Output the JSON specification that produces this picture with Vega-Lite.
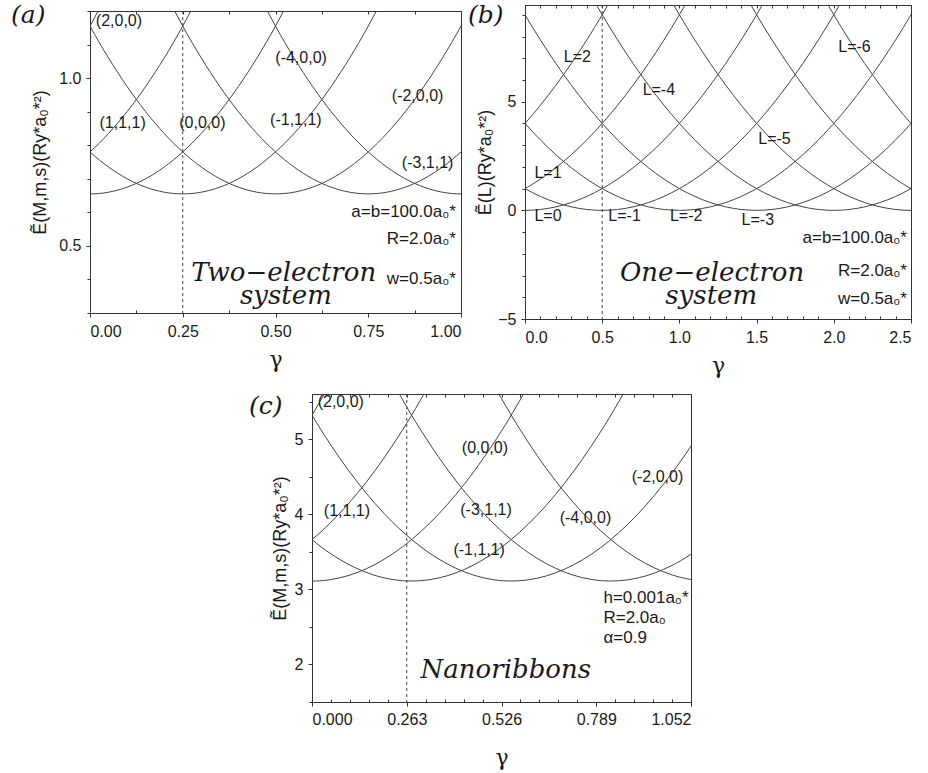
{
  "$schema": "https://vega.github.io/schema/vega-lite/v6.json",
  "background": "white",
  "padding": {"left": 10, "top": 2, "right": 2, "bottom": 2},
  "config": {
    "view": {"stroke": "#333", "strokeWidth": 1},
    "axis": {
      "grid": false,
      "labelFont": "Liberation Sans",
      "labelFontSize": 16,
      "labelColor": "#1a1a1a",
      "tickColor": "#333",
      "domainColor": "#333",
      "tickSize": 4,
      "labelPadding": 5,
      "titleFontWeight": "normal",
      "titleColor": "#1a1a1a"
    },
    "text": {"color": "#1a1a1a"}
  },
  "datasets": {
    "curvesA": [
      {"k": "2,0,0", "g": -0.05, "E": 1.06}, {"k": "2,0,0", "g": 0, "E": 1.155}, {"k": "2,0,0", "g": 0.05, "E": 1.26},
      {"k": "1,1,1", "g": -0.05, "E": 0.735}, {"k": "1,1,1", "g": 0, "E": 0.78}, {"k": "1,1,1", "g": 0.05, "E": 0.835}, {"k": "1,1,1", "g": 0.1, "E": 0.9}, {"k": "1,1,1", "g": 0.15, "E": 0.975}, {"k": "1,1,1", "g": 0.2, "E": 1.06}, {"k": "1,1,1", "g": 0.25, "E": 1.155}, {"k": "1,1,1", "g": 0.3, "E": 1.26},
      {"k": "0,0,0", "g": -0.05, "E": 0.66}, {"k": "0,0,0", "g": 0, "E": 0.655}, {"k": "0,0,0", "g": 0.05, "E": 0.66}, {"k": "0,0,0", "g": 0.1, "E": 0.675}, {"k": "0,0,0", "g": 0.15, "E": 0.7}, {"k": "0,0,0", "g": 0.2, "E": 0.735}, {"k": "0,0,0", "g": 0.25, "E": 0.78}, {"k": "0,0,0", "g": 0.3, "E": 0.835}, {"k": "0,0,0", "g": 0.35, "E": 0.9}, {"k": "0,0,0", "g": 0.4, "E": 0.975}, {"k": "0,0,0", "g": 0.45, "E": 1.06}, {"k": "0,0,0", "g": 0.5, "E": 1.155}, {"k": "0,0,0", "g": 0.55, "E": 1.26},
      {"k": "-1,1,1", "g": -0.05, "E": 0.835}, {"k": "-1,1,1", "g": 0, "E": 0.78}, {"k": "-1,1,1", "g": 0.05, "E": 0.735}, {"k": "-1,1,1", "g": 0.1, "E": 0.7}, {"k": "-1,1,1", "g": 0.15, "E": 0.675}, {"k": "-1,1,1", "g": 0.2, "E": 0.66}, {"k": "-1,1,1", "g": 0.25, "E": 0.655}, {"k": "-1,1,1", "g": 0.3, "E": 0.66}, {"k": "-1,1,1", "g": 0.35, "E": 0.675}, {"k": "-1,1,1", "g": 0.4, "E": 0.7}, {"k": "-1,1,1", "g": 0.45, "E": 0.735}, {"k": "-1,1,1", "g": 0.5, "E": 0.78}, {"k": "-1,1,1", "g": 0.55, "E": 0.835}, {"k": "-1,1,1", "g": 0.6, "E": 0.9}, {"k": "-1,1,1", "g": 0.65, "E": 0.975}, {"k": "-1,1,1", "g": 0.7, "E": 1.06}, {"k": "-1,1,1", "g": 0.75, "E": 1.155}, {"k": "-1,1,1", "g": 0.8, "E": 1.26},
      {"k": "-2,0,0", "g": -0.05, "E": 1.26}, {"k": "-2,0,0", "g": 0, "E": 1.155}, {"k": "-2,0,0", "g": 0.05, "E": 1.06}, {"k": "-2,0,0", "g": 0.1, "E": 0.975}, {"k": "-2,0,0", "g": 0.15, "E": 0.9}, {"k": "-2,0,0", "g": 0.2, "E": 0.835}, {"k": "-2,0,0", "g": 0.25, "E": 0.78}, {"k": "-2,0,0", "g": 0.3, "E": 0.735}, {"k": "-2,0,0", "g": 0.35, "E": 0.7}, {"k": "-2,0,0", "g": 0.4, "E": 0.675}, {"k": "-2,0,0", "g": 0.45, "E": 0.66}, {"k": "-2,0,0", "g": 0.5, "E": 0.655}, {"k": "-2,0,0", "g": 0.55, "E": 0.66}, {"k": "-2,0,0", "g": 0.6, "E": 0.675}, {"k": "-2,0,0", "g": 0.65, "E": 0.7}, {"k": "-2,0,0", "g": 0.7, "E": 0.735}, {"k": "-2,0,0", "g": 0.75, "E": 0.78}, {"k": "-2,0,0", "g": 0.8, "E": 0.835}, {"k": "-2,0,0", "g": 0.85, "E": 0.9}, {"k": "-2,0,0", "g": 0.9, "E": 0.975}, {"k": "-2,0,0", "g": 0.95, "E": 1.06}, {"k": "-2,0,0", "g": 1.0, "E": 1.155}, {"k": "-2,0,0", "g": 1.05, "E": 1.26},
      {"k": "-3,1,1", "g": 0.2, "E": 1.26}, {"k": "-3,1,1", "g": 0.25, "E": 1.155}, {"k": "-3,1,1", "g": 0.3, "E": 1.06}, {"k": "-3,1,1", "g": 0.35, "E": 0.975}, {"k": "-3,1,1", "g": 0.4, "E": 0.9}, {"k": "-3,1,1", "g": 0.45, "E": 0.835}, {"k": "-3,1,1", "g": 0.5, "E": 0.78}, {"k": "-3,1,1", "g": 0.55, "E": 0.735}, {"k": "-3,1,1", "g": 0.6, "E": 0.7}, {"k": "-3,1,1", "g": 0.65, "E": 0.675}, {"k": "-3,1,1", "g": 0.7, "E": 0.66}, {"k": "-3,1,1", "g": 0.75, "E": 0.655}, {"k": "-3,1,1", "g": 0.8, "E": 0.66}, {"k": "-3,1,1", "g": 0.85, "E": 0.675}, {"k": "-3,1,1", "g": 0.9, "E": 0.7}, {"k": "-3,1,1", "g": 0.95, "E": 0.735}, {"k": "-3,1,1", "g": 1.0, "E": 0.78}, {"k": "-3,1,1", "g": 1.05, "E": 0.835},
      {"k": "-4,0,0", "g": 0.45, "E": 1.26}, {"k": "-4,0,0", "g": 0.5, "E": 1.155}, {"k": "-4,0,0", "g": 0.55, "E": 1.06}, {"k": "-4,0,0", "g": 0.6, "E": 0.975}, {"k": "-4,0,0", "g": 0.65, "E": 0.9}, {"k": "-4,0,0", "g": 0.7, "E": 0.835}, {"k": "-4,0,0", "g": 0.75, "E": 0.78}, {"k": "-4,0,0", "g": 0.8, "E": 0.735}, {"k": "-4,0,0", "g": 0.85, "E": 0.7}, {"k": "-4,0,0", "g": 0.9, "E": 0.675}, {"k": "-4,0,0", "g": 0.95, "E": 0.66}, {"k": "-4,0,0", "g": 1.0, "E": 0.655}, {"k": "-4,0,0", "g": 1.05, "E": 0.66}
    ],
    "labelsA": [
      {"t": "(2,0,0)", "g": 0.078, "E": 1.171},
      {"t": "(1,1,1)", "g": 0.088, "E": 0.867},
      {"t": "(0,0,0)", "g": 0.303, "E": 0.867},
      {"t": "(-1,1,1)", "g": 0.555, "E": 0.874},
      {"t": "(-4,0,0)", "g": 0.569, "E": 1.059},
      {"t": "(-2,0,0)", "g": 0.883, "E": 0.947},
      {"t": "(-3,1,1)", "g": 0.91, "E": 0.746}
    ],
    "paramsA": [
      {"t": "a=b=100.0a₀*", "g": 0.986, "E": 0.6},
      {"t": "R=2.0a₀*", "g": 0.986, "E": 0.52},
      {"t": "w=0.5a₀*", "g": 0.986, "E": 0.4}
    ],
    "captionA": [
      {"t": "Two−electron", "g": 0.522, "E": 0.42},
      {"t": "system", "g": 0.528, "E": 0.352}
    ],
    "curvesB": [
      {"k": "L2", "g": -0.1, "E": 3.24}, {"k": "L2", "g": 0, "E": 4}, {"k": "L2", "g": 0.1, "E": 4.84}, {"k": "L2", "g": 0.2, "E": 5.76}, {"k": "L2", "g": 0.3, "E": 6.76}, {"k": "L2", "g": 0.4, "E": 7.84}, {"k": "L2", "g": 0.5, "E": 9}, {"k": "L2", "g": 0.6, "E": 10.24},
      {"k": "L1", "g": -0.1, "E": 0.64}, {"k": "L1", "g": 0, "E": 1}, {"k": "L1", "g": 0.1, "E": 1.44}, {"k": "L1", "g": 0.2, "E": 1.96}, {"k": "L1", "g": 0.3, "E": 2.56}, {"k": "L1", "g": 0.4, "E": 3.24}, {"k": "L1", "g": 0.5, "E": 4}, {"k": "L1", "g": 0.6, "E": 4.84}, {"k": "L1", "g": 0.7, "E": 5.76}, {"k": "L1", "g": 0.8, "E": 6.76}, {"k": "L1", "g": 0.9, "E": 7.84}, {"k": "L1", "g": 1.0, "E": 9}, {"k": "L1", "g": 1.1, "E": 10.24},
      {"k": "L0", "g": -0.1, "E": 0.04}, {"k": "L0", "g": 0, "E": 0}, {"k": "L0", "g": 0.1, "E": 0.04}, {"k": "L0", "g": 0.2, "E": 0.16}, {"k": "L0", "g": 0.3, "E": 0.36}, {"k": "L0", "g": 0.4, "E": 0.64}, {"k": "L0", "g": 0.5, "E": 1}, {"k": "L0", "g": 0.6, "E": 1.44}, {"k": "L0", "g": 0.7, "E": 1.96}, {"k": "L0", "g": 0.8, "E": 2.56}, {"k": "L0", "g": 0.9, "E": 3.24}, {"k": "L0", "g": 1.0, "E": 4}, {"k": "L0", "g": 1.1, "E": 4.84}, {"k": "L0", "g": 1.2, "E": 5.76}, {"k": "L0", "g": 1.3, "E": 6.76}, {"k": "L0", "g": 1.4, "E": 7.84}, {"k": "L0", "g": 1.5, "E": 9}, {"k": "L0", "g": 1.6, "E": 10.24},
      {"k": "L-1", "g": -0.1, "E": 1.44}, {"k": "L-1", "g": 0, "E": 1}, {"k": "L-1", "g": 0.1, "E": 0.64}, {"k": "L-1", "g": 0.2, "E": 0.36}, {"k": "L-1", "g": 0.3, "E": 0.16}, {"k": "L-1", "g": 0.4, "E": 0.04}, {"k": "L-1", "g": 0.5, "E": 0}, {"k": "L-1", "g": 0.6, "E": 0.04}, {"k": "L-1", "g": 0.7, "E": 0.16}, {"k": "L-1", "g": 0.8, "E": 0.36}, {"k": "L-1", "g": 0.9, "E": 0.64}, {"k": "L-1", "g": 1.0, "E": 1}, {"k": "L-1", "g": 1.1, "E": 1.44}, {"k": "L-1", "g": 1.2, "E": 1.96}, {"k": "L-1", "g": 1.3, "E": 2.56}, {"k": "L-1", "g": 1.4, "E": 3.24}, {"k": "L-1", "g": 1.5, "E": 4}, {"k": "L-1", "g": 1.6, "E": 4.84}, {"k": "L-1", "g": 1.7, "E": 5.76}, {"k": "L-1", "g": 1.8, "E": 6.76}, {"k": "L-1", "g": 1.9, "E": 7.84}, {"k": "L-1", "g": 2.0, "E": 9}, {"k": "L-1", "g": 2.1, "E": 10.24},
      {"k": "L-2", "g": -0.1, "E": 4.84}, {"k": "L-2", "g": 0, "E": 4}, {"k": "L-2", "g": 0.1, "E": 3.24}, {"k": "L-2", "g": 0.2, "E": 2.56}, {"k": "L-2", "g": 0.3, "E": 1.96}, {"k": "L-2", "g": 0.4, "E": 1.44}, {"k": "L-2", "g": 0.5, "E": 1}, {"k": "L-2", "g": 0.6, "E": 0.64}, {"k": "L-2", "g": 0.7, "E": 0.36}, {"k": "L-2", "g": 0.8, "E": 0.16}, {"k": "L-2", "g": 0.9, "E": 0.04}, {"k": "L-2", "g": 1.0, "E": 0}, {"k": "L-2", "g": 1.1, "E": 0.04}, {"k": "L-2", "g": 1.2, "E": 0.16}, {"k": "L-2", "g": 1.3, "E": 0.36}, {"k": "L-2", "g": 1.4, "E": 0.64}, {"k": "L-2", "g": 1.5, "E": 1}, {"k": "L-2", "g": 1.6, "E": 1.44}, {"k": "L-2", "g": 1.7, "E": 1.96}, {"k": "L-2", "g": 1.8, "E": 2.56}, {"k": "L-2", "g": 1.9, "E": 3.24}, {"k": "L-2", "g": 2.0, "E": 4}, {"k": "L-2", "g": 2.1, "E": 4.84}, {"k": "L-2", "g": 2.2, "E": 5.76}, {"k": "L-2", "g": 2.3, "E": 6.76}, {"k": "L-2", "g": 2.4, "E": 7.84}, {"k": "L-2", "g": 2.5, "E": 9}, {"k": "L-2", "g": 2.6, "E": 10.24},
      {"k": "L-3", "g": -0.1, "E": 10.24}, {"k": "L-3", "g": 0, "E": 9}, {"k": "L-3", "g": 0.1, "E": 7.84}, {"k": "L-3", "g": 0.2, "E": 6.76}, {"k": "L-3", "g": 0.3, "E": 5.76}, {"k": "L-3", "g": 0.4, "E": 4.84}, {"k": "L-3", "g": 0.5, "E": 4}, {"k": "L-3", "g": 0.6, "E": 3.24}, {"k": "L-3", "g": 0.7, "E": 2.56}, {"k": "L-3", "g": 0.8, "E": 1.96}, {"k": "L-3", "g": 0.9, "E": 1.44}, {"k": "L-3", "g": 1.0, "E": 1}, {"k": "L-3", "g": 1.1, "E": 0.64}, {"k": "L-3", "g": 1.2, "E": 0.36}, {"k": "L-3", "g": 1.3, "E": 0.16}, {"k": "L-3", "g": 1.4, "E": 0.04}, {"k": "L-3", "g": 1.5, "E": 0}, {"k": "L-3", "g": 1.6, "E": 0.04}, {"k": "L-3", "g": 1.7, "E": 0.16}, {"k": "L-3", "g": 1.8, "E": 0.36}, {"k": "L-3", "g": 1.9, "E": 0.64}, {"k": "L-3", "g": 2.0, "E": 1}, {"k": "L-3", "g": 2.1, "E": 1.44}, {"k": "L-3", "g": 2.2, "E": 1.96}, {"k": "L-3", "g": 2.3, "E": 2.56}, {"k": "L-3", "g": 2.4, "E": 3.24}, {"k": "L-3", "g": 2.5, "E": 4}, {"k": "L-3", "g": 2.6, "E": 4.84},
      {"k": "L-4", "g": 0.4, "E": 10.24}, {"k": "L-4", "g": 0.5, "E": 9}, {"k": "L-4", "g": 0.6, "E": 7.84}, {"k": "L-4", "g": 0.7, "E": 6.76}, {"k": "L-4", "g": 0.8, "E": 5.76}, {"k": "L-4", "g": 0.9, "E": 4.84}, {"k": "L-4", "g": 1.0, "E": 4}, {"k": "L-4", "g": 1.1, "E": 3.24}, {"k": "L-4", "g": 1.2, "E": 2.56}, {"k": "L-4", "g": 1.3, "E": 1.96}, {"k": "L-4", "g": 1.4, "E": 1.44}, {"k": "L-4", "g": 1.5, "E": 1}, {"k": "L-4", "g": 1.6, "E": 0.64}, {"k": "L-4", "g": 1.7, "E": 0.36}, {"k": "L-4", "g": 1.8, "E": 0.16}, {"k": "L-4", "g": 1.9, "E": 0.04}, {"k": "L-4", "g": 2.0, "E": 0}, {"k": "L-4", "g": 2.1, "E": 0.04}, {"k": "L-4", "g": 2.2, "E": 0.16}, {"k": "L-4", "g": 2.3, "E": 0.36}, {"k": "L-4", "g": 2.4, "E": 0.64}, {"k": "L-4", "g": 2.5, "E": 1}, {"k": "L-4", "g": 2.6, "E": 1.44},
      {"k": "L-5", "g": 0.9, "E": 10.24}, {"k": "L-5", "g": 1.0, "E": 9}, {"k": "L-5", "g": 1.1, "E": 7.84}, {"k": "L-5", "g": 1.2, "E": 6.76}, {"k": "L-5", "g": 1.3, "E": 5.76}, {"k": "L-5", "g": 1.4, "E": 4.84}, {"k": "L-5", "g": 1.5, "E": 4}, {"k": "L-5", "g": 1.6, "E": 3.24}, {"k": "L-5", "g": 1.7, "E": 2.56}, {"k": "L-5", "g": 1.8, "E": 1.96}, {"k": "L-5", "g": 1.9, "E": 1.44}, {"k": "L-5", "g": 2.0, "E": 1}, {"k": "L-5", "g": 2.1, "E": 0.64}, {"k": "L-5", "g": 2.2, "E": 0.36}, {"k": "L-5", "g": 2.3, "E": 0.16}, {"k": "L-5", "g": 2.4, "E": 0.04}, {"k": "L-5", "g": 2.5, "E": 0}, {"k": "L-5", "g": 2.6, "E": 0.04},
      {"k": "L-6", "g": 1.4, "E": 10.24}, {"k": "L-6", "g": 1.5, "E": 9}, {"k": "L-6", "g": 1.6, "E": 7.84}, {"k": "L-6", "g": 1.7, "E": 6.76}, {"k": "L-6", "g": 1.8, "E": 5.76}, {"k": "L-6", "g": 1.9, "E": 4.84}, {"k": "L-6", "g": 2.0, "E": 4}, {"k": "L-6", "g": 2.1, "E": 3.24}, {"k": "L-6", "g": 2.2, "E": 2.56}, {"k": "L-6", "g": 2.3, "E": 1.96}, {"k": "L-6", "g": 2.4, "E": 1.44}, {"k": "L-6", "g": 2.5, "E": 1}, {"k": "L-6", "g": 2.6, "E": 0.64},
      {"k": "L-7", "g": 1.9, "E": 10.24}, {"k": "L-7", "g": 2.0, "E": 9}, {"k": "L-7", "g": 2.1, "E": 7.84}, {"k": "L-7", "g": 2.2, "E": 6.76}, {"k": "L-7", "g": 2.3, "E": 5.76}, {"k": "L-7", "g": 2.4, "E": 4.84}, {"k": "L-7", "g": 2.5, "E": 4}, {"k": "L-7", "g": 2.6, "E": 3.24}
    ],
    "labelsB": [
      {"t": "L=2", "g": 0.339, "E": 7.06},
      {"t": "L=-4", "g": 0.867, "E": 5.54},
      {"t": "L=-6", "g": 2.134, "E": 7.52},
      {"t": "L=-5", "g": 1.616, "E": 3.27},
      {"t": "L=1", "g": 0.149, "E": 1.74},
      {"t": "L=0", "g": 0.149, "E": -0.28},
      {"t": "L=-1", "g": 0.645, "E": -0.28},
      {"t": "L=-2", "g": 1.044, "E": -0.28},
      {"t": "L=-3", "g": 1.508, "E": -0.43}
    ],
    "paramsB": [
      {"t": "a=b=100.0a₀*", "g": 2.474, "E": -1.27},
      {"t": "R=2.0a₀*", "g": 2.474, "E": -2.8},
      {"t": "w=0.5a₀*", "g": 2.474, "E": -4.1}
    ],
    "captionB": [
      {"t": "One−electron", "g": 1.212, "E": -2.9},
      {"t": "system", "g": 1.206, "E": -3.95}
    ],
    "curvesC": [
      {"k": "2,0,0", "g": -0.05, "E": 4.937}, {"k": "2,0,0", "g": 0, "E": 5.318}, {"k": "2,0,0", "g": 0.05, "E": 5.735},
      {"k": "1,1,1", "g": -0.05, "E": 3.48}, {"k": "1,1,1", "g": 0, "E": 3.662}, {"k": "1,1,1", "g": 0.05, "E": 3.88}, {"k": "1,1,1", "g": 0.1, "E": 4.133}, {"k": "1,1,1", "g": 0.15, "E": 4.423}, {"k": "1,1,1", "g": 0.2, "E": 4.749}, {"k": "1,1,1", "g": 0.25, "E": 5.111}, {"k": "1,1,1", "g": 0.3, "E": 5.51}, {"k": "1,1,1", "g": 0.35, "E": 5.944},
      {"k": "0,0,0", "g": -0.05, "E": 3.128}, {"k": "0,0,0", "g": 0, "E": 3.11}, {"k": "0,0,0", "g": 0.05, "E": 3.128}, {"k": "0,0,0", "g": 0.1, "E": 3.182}, {"k": "0,0,0", "g": 0.15, "E": 3.272}, {"k": "0,0,0", "g": 0.2, "E": 3.399}, {"k": "0,0,0", "g": 0.25, "E": 3.561}, {"k": "0,0,0", "g": 0.3, "E": 3.76}, {"k": "0,0,0", "g": 0.35, "E": 3.994}, {"k": "0,0,0", "g": 0.4, "E": 4.265}, {"k": "0,0,0", "g": 0.45, "E": 4.572}, {"k": "0,0,0", "g": 0.5, "E": 4.915}, {"k": "0,0,0", "g": 0.55, "E": 5.294}, {"k": "0,0,0", "g": 0.6, "E": 5.709},
      {"k": "-1,1,1", "g": -0.05, "E": 3.88}, {"k": "-1,1,1", "g": 0, "E": 3.662}, {"k": "-1,1,1", "g": 0.05, "E": 3.48}, {"k": "-1,1,1", "g": 0.1, "E": 3.335}, {"k": "-1,1,1", "g": 0.15, "E": 3.226}, {"k": "-1,1,1", "g": 0.2, "E": 3.152}, {"k": "-1,1,1", "g": 0.25, "E": 3.115}, {"k": "-1,1,1", "g": 0.3, "E": 3.114}, {"k": "-1,1,1", "g": 0.35, "E": 3.149}, {"k": "-1,1,1", "g": 0.4, "E": 3.22}, {"k": "-1,1,1", "g": 0.45, "E": 3.327}, {"k": "-1,1,1", "g": 0.5, "E": 3.471}, {"k": "-1,1,1", "g": 0.55, "E": 3.65}, {"k": "-1,1,1", "g": 0.6, "E": 3.866}, {"k": "-1,1,1", "g": 0.65, "E": 4.117}, {"k": "-1,1,1", "g": 0.7, "E": 4.405}, {"k": "-1,1,1", "g": 0.75, "E": 4.729}, {"k": "-1,1,1", "g": 0.8, "E": 5.089}, {"k": "-1,1,1", "g": 0.85, "E": 5.485}, {"k": "-1,1,1", "g": 0.9, "E": 5.917},
      {"k": "-2,0,0", "g": -0.05, "E": 5.735}, {"k": "-2,0,0", "g": 0, "E": 5.318}, {"k": "-2,0,0", "g": 0.05, "E": 4.937}, {"k": "-2,0,0", "g": 0.1, "E": 4.592}, {"k": "-2,0,0", "g": 0.15, "E": 4.283}, {"k": "-2,0,0", "g": 0.2, "E": 4.01}, {"k": "-2,0,0", "g": 0.25, "E": 3.773}, {"k": "-2,0,0", "g": 0.3, "E": 3.572}, {"k": "-2,0,0", "g": 0.35, "E": 3.408}, {"k": "-2,0,0", "g": 0.4, "E": 3.279}, {"k": "-2,0,0", "g": 0.45, "E": 3.187}, {"k": "-2,0,0", "g": 0.5, "E": 3.13}, {"k": "-2,0,0", "g": 0.55, "E": 3.11}, {"k": "-2,0,0", "g": 0.6, "E": 3.126}, {"k": "-2,0,0", "g": 0.65, "E": 3.178}, {"k": "-2,0,0", "g": 0.7, "E": 3.266}, {"k": "-2,0,0", "g": 0.75, "E": 3.39}, {"k": "-2,0,0", "g": 0.8, "E": 3.55}, {"k": "-2,0,0", "g": 0.85, "E": 3.747}, {"k": "-2,0,0", "g": 0.9, "E": 3.979}, {"k": "-2,0,0", "g": 0.95, "E": 4.248}, {"k": "-2,0,0", "g": 1.0, "E": 4.553}, {"k": "-2,0,0", "g": 1.05, "E": 4.893}, {"k": "-2,0,0", "g": 1.1, "E": 5.27},
      {"k": "-3,1,1", "g": 0.2, "E": 5.971}, {"k": "-3,1,1", "g": 0.25, "E": 5.535}, {"k": "-3,1,1", "g": 0.3, "E": 5.134}, {"k": "-3,1,1", "g": 0.35, "E": 4.77}, {"k": "-3,1,1", "g": 0.4, "E": 4.442}, {"k": "-3,1,1", "g": 0.45, "E": 4.15}, {"k": "-3,1,1", "g": 0.5, "E": 3.894}, {"k": "-3,1,1", "g": 0.55, "E": 3.674}, {"k": "-3,1,1", "g": 0.6, "E": 3.49}, {"k": "-3,1,1", "g": 0.65, "E": 3.343}, {"k": "-3,1,1", "g": 0.7, "E": 3.231}, {"k": "-3,1,1", "g": 0.75, "E": 3.156}, {"k": "-3,1,1", "g": 0.8, "E": 3.116}, {"k": "-3,1,1", "g": 0.85, "E": 3.113}, {"k": "-3,1,1", "g": 0.9, "E": 3.146}, {"k": "-3,1,1", "g": 0.95, "E": 3.215}, {"k": "-3,1,1", "g": 1.0, "E": 3.32}, {"k": "-3,1,1", "g": 1.05, "E": 3.461}, {"k": "-3,1,1", "g": 1.1, "E": 3.638},
      {"k": "-4,0,0", "g": 0.45, "E": 6.217}, {"k": "-4,0,0", "g": 0.5, "E": 5.761}, {"k": "-4,0,0", "g": 0.55, "E": 5.342}, {"k": "-4,0,0", "g": 0.6, "E": 4.959}, {"k": "-4,0,0", "g": 0.65, "E": 4.611}, {"k": "-4,0,0", "g": 0.7, "E": 4.3}, {"k": "-4,0,0", "g": 0.75, "E": 4.025}, {"k": "-4,0,0", "g": 0.8, "E": 3.786}, {"k": "-4,0,0", "g": 0.85, "E": 3.583}, {"k": "-4,0,0", "g": 0.9, "E": 3.416}, {"k": "-4,0,0", "g": 0.95, "E": 3.286}, {"k": "-4,0,0", "g": 1.0, "E": 3.191}, {"k": "-4,0,0", "g": 1.05, "E": 3.133}, {"k": "-4,0,0", "g": 1.1, "E": 3.11}
    ],
    "labelsC": [
      {"t": "(2,0,0)", "g": 0.08, "E": 5.497},
      {"t": "(0,0,0)", "g": 0.48, "E": 4.876},
      {"t": "(1,1,1)", "g": 0.097, "E": 4.04},
      {"t": "(-3,1,1)", "g": 0.483, "E": 4.055},
      {"t": "(-1,1,1)", "g": 0.464, "E": 3.52},
      {"t": "(-4,0,0)", "g": 0.759, "E": 3.944},
      {"t": "(-2,0,0)", "g": 0.959, "E": 4.498}
    ],
    "paramsC": [
      {"t": "h=0.001a₀*", "g": 0.809, "E": 2.878},
      {"t": "R=2.0a₀", "g": 0.809, "E": 2.612},
      {"t": "α=0.9", "g": 0.809, "E": 2.346}
    ],
    "captionC": [
      {"t": "Nanoribbons", "g": 0.538, "E": 1.924}
    ]
  },
  "spacing": 16,
  "vconcat": [
    {
      "spacing": 64,
      "bounds": "flush",
      "center": true,
      "hconcat": [
        {
          "width": 371,
          "height": 302,
          "title": {"text": "(a)", "orient": "top", "anchor": "start", "frame": "group", "offset": -17, "dx": -79, "font": "DejaVu Serif", "fontStyle": "italic", "fontWeight": "normal", "fontSize": 25, "color": "#1a1a1a"},
          "resolve": {"axis": {"x": "independent", "y": "independent"}},
          "layer": [
            {
              "data": {"name": "curvesA"},
              "mark": {"type": "line", "clip": true, "interpolate": "natural", "stroke": "#444", "strokeWidth": 1},
              "encoding": {
                "x": {"field": "g", "type": "quantitative", "scale": {"domain": [0, 1], "nice": false, "zero": false},
                      "axis": {"orient": "bottom", "values": [0, 0.25, 0.5, 0.75, 1], "format": ".2f", "labelPadding": 6, "title": "γ", "titleFont": "DejaVu Serif", "titleFontSize": 22, "titlePadding": 10}},
                "y": {"field": "E", "type": "quantitative", "scale": {"domain": [0.3, 1.2], "nice": false, "zero": false},
                      "axis": {"orient": "left", "values": [0.5, 1.0], "format": ".1f", "title": "Ẽ(M,m,s)(Ry*a₀*²)", "titleFont": "Liberation Sans", "titleFontSize": 18, "titlePadding": 9}},
                "detail": {"field": "k", "type": "nominal"}
              }
            },
            {
              "data": {"values": [{"g": 0.25}]},
              "mark": {"type": "rule", "stroke": "#444", "strokeWidth": 1, "strokeDash": [3, 3]},
              "encoding": {
                "x": {"field": "g", "type": "quantitative",
                      "axis": {"orient": "top", "values": [0, 0.125, 0.25, 0.375, 0.5, 0.625, 0.75, 0.875, 1], "labels": false, "title": null, "domain": false, "tickSize": -3}}
              }
            },
            {
              "data": {"name": "labelsA"},
              "mark": {"type": "text", "font": "Liberation Sans", "fontSize": 16},
              "encoding": {
                "x": {"field": "g", "type": "quantitative",
                      "axis": {"orient": "bottom", "values": [0.125, 0.375, 0.625, 0.875], "labels": false, "title": null, "domain": false, "tickSize": -3}},
                "y": {"field": "E", "type": "quantitative",
                      "axis": {"orient": "left", "values": [0.3, 0.4, 0.6, 0.7, 0.8, 0.9, 1.1, 1.2], "labels": false, "title": null, "domain": false, "tickSize": 3}},
                "text": {"field": "t"}
              }
            },
            {
              "data": {"name": "paramsA"},
              "mark": {"type": "text", "align": "right", "font": "Liberation Sans", "fontSize": 17},
              "encoding": {
                "x": {"field": "g", "type": "quantitative", "axis": null},
                "y": {"field": "E", "type": "quantitative", "axis": null},
                "text": {"field": "t"}
              }
            },
            {
              "data": {"name": "captionA"},
              "mark": {"type": "text", "font": "DejaVu Serif", "fontStyle": "italic", "fontSize": 26},
              "encoding": {
                "x": {"field": "g", "type": "quantitative", "axis": null},
                "y": {"field": "E", "type": "quantitative", "axis": null},
                "text": {"field": "t"}
              }
            }
          ]
        },
        {
          "width": 386,
          "height": 314,
          "title": {"text": "(b)", "orient": "top", "anchor": "start", "frame": "group", "offset": -23, "dx": -57, "font": "DejaVu Serif", "fontStyle": "italic", "fontWeight": "normal", "fontSize": 25, "color": "#1a1a1a"},
          "resolve": {"axis": {"x": "independent", "y": "independent"}},
          "layer": [
            {
              "data": {"name": "curvesB"},
              "mark": {"type": "line", "clip": true, "interpolate": "natural", "stroke": "#444", "strokeWidth": 1},
              "encoding": {
                "x": {"field": "g", "type": "quantitative", "scale": {"domain": [0, 2.5], "nice": false, "zero": false},
                      "axis": {"orient": "bottom", "values": [0, 0.5, 1, 1.5, 2, 2.5], "format": ".1f", "labelPadding": 6, "title": "γ", "titleFont": "DejaVu Serif", "titleFontSize": 22, "titlePadding": 10}},
                "y": {"field": "E", "type": "quantitative", "scale": {"domain": [-5, 9.45], "nice": false, "zero": false},
                      "axis": {"orient": "left", "values": [-5, 0, 5], "format": "d", "title": "Ẽ(L)(Ry*a₀*²)", "titleFont": "Liberation Sans", "titleFontSize": 18, "titlePadding": 3}},
                "detail": {"field": "k", "type": "nominal"}
              }
            },
            {
              "data": {"values": [{"g": 0.5}]},
              "mark": {"type": "rule", "stroke": "#444", "strokeWidth": 1, "strokeDash": [3, 3]},
              "encoding": {
                "x": {"field": "g", "type": "quantitative",
                      "axis": {"orient": "top", "values": [0, 0.1, 0.2, 0.3, 0.4, 0.5, 0.6, 0.7, 0.8, 0.9, 1, 1.1, 1.2, 1.3, 1.4, 1.5, 1.6, 1.7, 1.8, 1.9, 2, 2.1, 2.2, 2.3, 2.4, 2.5], "labels": false, "title": null, "domain": false, "tickSize": -3}}
              }
            },
            {
              "data": {"name": "labelsB"},
              "mark": {"type": "text", "font": "Liberation Sans", "fontSize": 16},
              "encoding": {
                "x": {"field": "g", "type": "quantitative",
                      "axis": {"orient": "bottom", "values": [0.1, 0.2, 0.3, 0.4, 0.6, 0.7, 0.8, 0.9, 1.1, 1.2, 1.3, 1.4, 1.6, 1.7, 1.8, 1.9, 2.1, 2.2, 2.3, 2.4], "labels": false, "title": null, "domain": false, "tickSize": -3}},
                "y": {"field": "E", "type": "quantitative",
                      "axis": {"orient": "left", "values": [-4, -3, -2, -1, 1, 2, 3, 4, 6, 7, 8, 9], "labels": false, "title": null, "domain": false, "tickSize": 3}},
                "text": {"field": "t"}
              }
            },
            {
              "data": {"name": "paramsB"},
              "mark": {"type": "text", "align": "right", "font": "Liberation Sans", "fontSize": 17},
              "encoding": {
                "x": {"field": "g", "type": "quantitative", "axis": null},
                "y": {"field": "E", "type": "quantitative", "axis": null},
                "text": {"field": "t"}
              }
            },
            {
              "data": {"name": "captionB"},
              "mark": {"type": "text", "font": "DejaVu Serif", "fontStyle": "italic", "fontSize": 26},
              "encoding": {
                "x": {"field": "g", "type": "quantitative", "axis": null},
                "y": {"field": "E", "type": "quantitative", "axis": null},
                "text": {"field": "t"}
              }
            }
          ]
        }
      ]
    },
    {
      "spacing": 0,
      "bounds": "flush",
      "hconcat": [
        {
          "width": 222,
          "height": 1,
          "view": {"stroke": null, "fill": "white"},
          "data": {"values": []},
          "mark": {"type": "point", "opacity": 0}
        },
        {
          "width": 379,
          "height": 308,
          "title": {"text": "(c)", "orient": "top", "anchor": "start", "frame": "group", "offset": -25, "dx": -63, "font": "DejaVu Serif", "fontStyle": "italic", "fontWeight": "normal", "fontSize": 25, "color": "#1a1a1a"},
          "resolve": {"axis": {"x": "independent", "y": "independent"}},
          "layer": [
            {
              "data": {"name": "curvesC"},
              "mark": {"type": "line", "clip": true, "interpolate": "natural", "stroke": "#444", "strokeWidth": 1},
              "encoding": {
                "x": {"field": "g", "type": "quantitative", "scale": {"domain": [0, 1.052], "nice": false, "zero": false},
                      "axis": {"orient": "bottom", "values": [0, 0.263, 0.526, 0.789, 1.052], "format": ".3f", "labelPadding": 5, "title": "γ", "titleFont": "DejaVu Serif", "titleFontSize": 22, "titlePadding": 20}},
                "y": {"field": "E", "type": "quantitative", "scale": {"domain": [1.5, 5.6], "nice": false, "zero": false},
                      "axis": {"orient": "left", "values": [2, 3, 4, 5], "format": "d", "title": "Ẽ(M,m,s)(Ry*a₀*²)", "titleFont": "Liberation Sans", "titleFontSize": 18, "titlePadding": 5}},
                "detail": {"field": "k", "type": "nominal"}
              }
            },
            {
              "data": {"values": [{"g": 0.263}]},
              "mark": {"type": "rule", "stroke": "#444", "strokeWidth": 1, "strokeDash": [3, 3]},
              "encoding": {
                "x": {"field": "g", "type": "quantitative",
                      "axis": {"orient": "top", "values": [0, 0.0526, 0.1052, 0.1578, 0.2104, 0.263, 0.3156, 0.3682, 0.4208, 0.4734, 0.526, 0.5786, 0.6312, 0.6838, 0.7364, 0.789, 0.8416, 0.8942, 0.9468, 0.9994, 1.052], "labels": false, "title": null, "domain": false, "tickSize": -3}}
              }
            },
            {
              "data": {"name": "labelsC"},
              "mark": {"type": "text", "font": "Liberation Sans", "fontSize": 16},
              "encoding": {
                "x": {"field": "g", "type": "quantitative",
                      "axis": {"orient": "bottom", "values": [0.0526, 0.1052, 0.1578, 0.2104, 0.3156, 0.3682, 0.4208, 0.4734, 0.5786, 0.6312, 0.6838, 0.7364, 0.8416, 0.8942, 0.9468, 0.9994], "labels": false, "title": null, "domain": false, "tickSize": -3}},
                "y": {"field": "E", "type": "quantitative",
                      "axis": {"orient": "left", "values": [1.5, 2.5, 3.5, 4.5, 5.5], "labels": false, "title": null, "domain": false, "tickSize": 3}},
                "text": {"field": "t"}
              }
            },
            {
              "data": {"name": "paramsC"},
              "mark": {"type": "text", "align": "left", "font": "Liberation Sans", "fontSize": 17},
              "encoding": {
                "x": {"field": "g", "type": "quantitative", "axis": null},
                "y": {"field": "E", "type": "quantitative", "axis": null},
                "text": {"field": "t"}
              }
            },
            {
              "data": {"name": "captionC"},
              "mark": {"type": "text", "font": "DejaVu Serif", "fontStyle": "italic", "fontSize": 26},
              "encoding": {
                "x": {"field": "g", "type": "quantitative", "axis": null},
                "y": {"field": "E", "type": "quantitative", "axis": null},
                "text": {"field": "t"}
              }
            }
          ]
        }
      ]
    }
  ]
}
